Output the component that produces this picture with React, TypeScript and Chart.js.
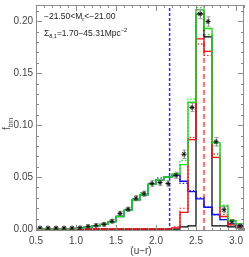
import React, { useEffect, useRef } from "react";
import { Chart, registerables } from "chart.js";

Chart.register(...registerables);

// ---------- data ----------
const binEdges = [0.5, 0.6, 0.7, 0.8, 0.9, 1.0, 1.1, 1.2, 1.3, 1.4, 1.5, 1.6, 1.7, 1.8, 1.9, 2.0, 2.1, 2.2, 2.3, 2.4, 2.5, 2.6, 2.7, 2.8, 2.9, 3.0, 3.1];
const binCenters = [0.55, 0.65, 0.75, 0.85, 0.95, 1.05, 1.15, 1.25, 1.35, 1.45, 1.55, 1.65, 1.75, 1.85, 1.95, 2.05, 2.15, 2.25, 2.35, 2.45, 2.55, 2.65, 2.75, 2.85, 2.95, 3.05];

const obsValues = [0.001, 0.001, 0.001, 0.001, 0.001, 0.0012, 0.0025, 0.0035, 0.0045, 0.0075, 0.015, 0.019, 0.0296, 0.034, 0.0438, 0.0447, 0.0438, 0.0517, 0.072, 0.117, 0.207, 0.1997, 0.084, 0.0186, 0.0069, 0.003];
const obsErrors = [0.0008, 0.0008, 0.0008, 0.0008, 0.0008, 0.0008, 0.0012, 0.0015, 0.0015, 0.0018, 0.002, 0.002, 0.0025, 0.0025, 0.003, 0.003, 0.003, 0.003, 0.004, 0.004, 0.0045, 0.0045, 0.004, 0.003, 0.002, 0.0015];

const greenModel = [0.0003, 0.0003, 0.0003, 0.0003, 0.0003, 0.0008, 0.0016, 0.003, 0.0045, 0.007, 0.012, 0.018, 0.028, 0.033, 0.043, 0.047, 0.05, 0.053, 0.062, 0.122, 0.211, 0.193, 0.083, 0.022, 0.008, 0.005];
const greenAlt = [0.0004, 0.0004, 0.0004, 0.0004, 0.0004, 0.0009, 0.0018, 0.0032, 0.0047, 0.0075, 0.013, 0.019, 0.029, 0.035, 0.044, 0.049, 0.05, 0.053, 0.066, 0.125, 0.213, 0.187, 0.08, 0.023, 0.009, 0.005];
const redModel = [0, 0, 0, 0, 0, 0, 0, 0, 0, 0, 0, 0, 0, 0, 0, 0, 0, 0.001, 0.016, 0.086, 0.183, 0.171, 0.069, 0.012, 0.004, 0.002];
const redAlt = [0, 0, 0, 0, 0, 0, 0, 0, 0, 0, 0, 0, 0, 0, 0, 0, 0, 0.002, 0.02, 0.088, 0.178, 0.167, 0.072, 0.014, 0.004, 0.002];
const blueModel = [0.0003, 0.0003, 0.0003, 0.0003, 0.0003, 0.0008, 0.0016, 0.003, 0.0045, 0.007, 0.012, 0.018, 0.028, 0.033, 0.043, 0.047, 0.05, 0.052, 0.046, 0.036, 0.029, 0.021, 0.014, 0.009, 0.005, 0.003];
const blueAlt = [0.0004, 0.0004, 0.0004, 0.0004, 0.0004, 0.0009, 0.0018, 0.0032, 0.0047, 0.0075, 0.013, 0.019, 0.029, 0.035, 0.044, 0.049, 0.05, 0.051, 0.044, 0.037, 0.03, 0.021, 0.0135, 0.009, 0.005, 0.003];
const blackHist = [0, 0, 0, 0, 0, 0, 0, 0, 0, 0, 0, 0, 0, 0, 0, 0, 0, 0, 0.002, 0.003, 0.207, 0.185, 0.003, 0.003, 0.002, 0.001];

const blueCut = 2.17;
const redPeak = 2.6;

const xTickLabels = ["0.5", "1.0", "1.5", "2.0", "2.5", "3.0"];
const yTickLabels = ["0.00", "0.05", "0.10", "0.15", "0.20"];

const X_MIN = 0.5;
const X_MAX = 3.1;
const Y_MIN = -0.0019;
const Y_MAX = 0.2156;

// ---------- helpers ----------
const stepData = (vals: number[]) =>
  binEdges.map((x, i) => ({ x, y: vals[Math.min(i, vals.length - 1)] }));

const FONT = "'Liberation Sans', Arial, sans-serif";

type Seg = { t: string; size: number; dy: number };
function drawSegs(ctx: CanvasRenderingContext2D, x: number, y: number, segs: Seg[], color: string) {
  ctx.fillStyle = color;
  ctx.textBaseline = "alphabetic";
  ctx.textAlign = "left";
  let cx = x;
  for (const s of segs) {
    ctx.font = `${s.size}px ${FONT}`;
    ctx.fillText(s.t, cx, y + s.dy);
    cx += ctx.measureText(s.t).width;
  }
}

const framePlugin = {
  id: "idlFrame",
  beforeDatasetDraw(chart: any, args: any) {
    if (args.index !== 0) return;
    const { ctx } = chart;
    const xs = chart.scales.x;
    const ys = chart.scales.y;
    ctx.save();
    ctx.beginPath();
    ctx.rect(chart.chartArea.left, chart.chartArea.top, chart.chartArea.right - chart.chartArea.left, chart.chartArea.bottom - chart.chartArea.top);
    ctx.clip();
    ctx.strokeStyle = "#9a9a9a";
    ctx.lineWidth = 1;
    binCenters.forEach((c, i) => {
      const px = Math.round(xs.getPixelForValue(c)) + 0.5;
      const y1 = ys.getPixelForValue(obsValues[i] - obsErrors[i]);
      const y2 = ys.getPixelForValue(obsValues[i] + obsErrors[i]);
      ctx.beginPath();
      ctx.moveTo(px, y1);
      ctx.lineTo(px, y2);
      ctx.moveTo(px - 2, y1);
      ctx.lineTo(px + 2, y1);
      ctx.moveTo(px - 2, y2);
      ctx.lineTo(px + 2, y2);
      ctx.stroke();
    });
    ctx.restore();
  },
  afterDraw(chart: any) {
    const { ctx, chartArea: a } = chart;
    const xs = chart.scales.x;
    const ys = chart.scales.y;
    ctx.save();
    ctx.strokeStyle = "#8c8c8c";
    ctx.lineWidth = 1;
    ctx.setLineDash([]);
    ctx.strokeRect(a.left + 0.5, a.top + 0.5, a.right - a.left - 1, a.bottom - a.top - 1);
    ctx.beginPath();
    for (let k = 0; k <= 26; k++) {
      const v = X_MIN + k * 0.1;
      const px = Math.round(xs.getPixelForValue(v)) + 0.5;
      const major = k % 5 === 0;
      const len = major ? 6 : 3;
      ctx.moveTo(px, a.bottom);
      ctx.lineTo(px, a.bottom - len);
      ctx.moveTo(px, a.top);
      ctx.lineTo(px, a.top + len);
    }
    for (let k = 0; k <= 21; k++) {
      const v = k * 0.01;
      const py = Math.round(ys.getPixelForValue(v)) + 0.5;
      const major = k % 5 === 0;
      const len = major ? 6 : 3;
      ctx.moveTo(a.left, py);
      ctx.lineTo(a.left + len, py);
      ctx.moveTo(a.right, py);
      ctx.lineTo(a.right - len, py);
    }
    ctx.stroke();

    ctx.fillStyle = "#444";
    ctx.font = `10px ${FONT}`;
    ctx.textAlign = "center";
    ctx.textBaseline = "middle";
    xTickLabels.forEach((l) => {
      ctx.fillText(l, xs.getPixelForValue(parseFloat(l)), 241.5);
    });
    ctx.textAlign = "right";
    yTickLabels.forEach((l) => {
      ctx.fillText(l, a.left - 3, ys.getPixelForValue(parseFloat(l)) + 0.5);
    });

    ctx.textAlign = "center";
    ctx.fillText("(u\u2212r)", 141, 251);

    ctx.save();
    ctx.translate(10, 130);
    ctx.rotate(-Math.PI / 2);
    drawSegs(ctx, 0, 0, [
      { t: "f", size: 10, dy: 0 },
      { t: "bin", size: 7, dy: 2.5 },
    ], "#444");
    ctx.restore();

    drawSegs(ctx, 44, 19, [
      { t: "\u221221.50<M", size: 8.5, dy: 0 },
      { t: "r", size: 6, dy: 2 },
      { t: "<\u221221.00", size: 8.5, dy: 0 },
    ], "#222");
    drawSegs(ctx, 44, 36, [
      { t: "\u03a3", size: 8.5, dy: 0 },
      { t: "8,1", size: 5.5, dy: 2 },
      { t: "=1.70\u221245.31Mpc", size: 8.5, dy: 0 },
      { t: "\u22122", size: 5.5, dy: -4 },
    ], "#222");
    ctx.restore();
  },
};

export default function App() {
  const ref = useRef<HTMLCanvasElement | null>(null);
  useEffect(() => {
    if (!ref.current) return;
    const line = (data: any[], color: string, width: number, dash: number[], order: number) => ({
      type: "line" as const,
      data,
      borderColor: color,
      borderWidth: width,
      borderDash: dash,
      pointRadius: 0,
      stepped: true,
      fill: false,
      order,
    });
    const vline = (x: number, color: string, width: number, dash: number[], order: number) => ({
      type: "line" as const,
      data: [{ x, y: Y_MIN }, { x, y: Y_MAX }],
      borderColor: color,
      borderWidth: width,
      borderDash: dash,
      pointRadius: 0,
      fill: false,
      order,
    });
    const chart = new Chart(ref.current, {
      type: "line",
      data: {
        datasets: [
          {
            type: "scatter" as const,
            data: binCenters.map((x, i) => ({ x, y: obsValues[i] })),
            pointStyle: "star",
            pointRadius: 2.5,
            borderColor: "#111",
            backgroundColor: "#111",
            borderWidth: 1,
            showLine: false,
            order: 0,
          } as any,
          line(stepData(greenModel), "#1ed81e", 1.4, [], 1),
          line(stepData(greenAlt), "#22dd22", 1.2, [1.5, 2], 2),
          line(stepData(redModel), "#ee1111", 1.4, [], 3),
          line(stepData(redAlt), "#ee2222", 1.2, [1.5, 2], 4),
          line(stepData(blueModel), "#1010ee", 1.4, [], 5),
          line(stepData(blueAlt), "#2222ee", 1.2, [1.5, 2], 6),
          line(stepData(blackHist), "#000000", 1.2, [], 7),
          vline(blueCut, "rgb(40,40,255)", 1.5, [3, 2], 8),
          vline(redPeak, "rgba(255,70,70,0.75)", 2.2, [5, 3], 9),
        ],
      },
      options: {
        animation: false,
        responsive: false,
        devicePixelRatio: 1,
        layout: { padding: { left: 36, right: 1, top: 1, bottom: 26 } },
        plugins: { legend: { display: false }, tooltip: { enabled: false } },
        scales: {
          x: { type: "linear", min: X_MIN, max: X_MAX, display: false },
          y: { type: "linear", min: Y_MIN, max: Y_MAX, display: false },
        },
      },
      plugins: [framePlugin],
    } as any);
    return () => chart.destroy();
  }, []);
  return (
    <div style={{ position: "absolute", left: 0, top: 0, width: 249, height: 257, background: "#fff" }}>
      <canvas ref={ref} width={249} height={257} />
    </div>
  );
}
